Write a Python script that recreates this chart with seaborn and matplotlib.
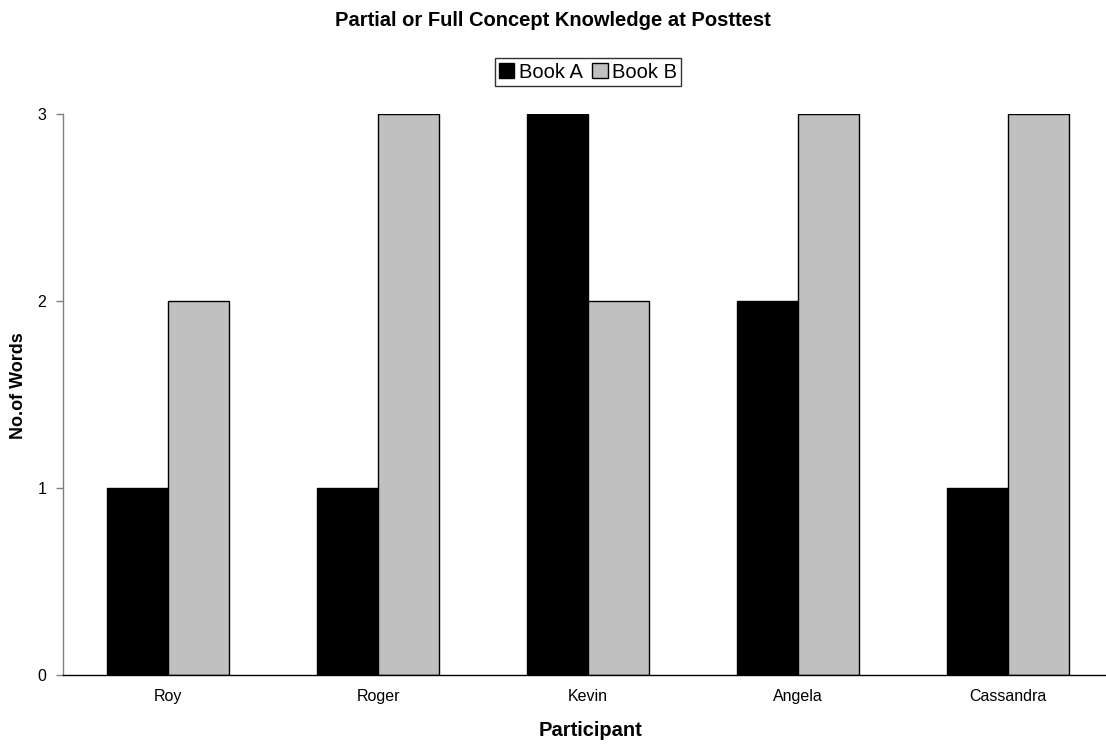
import matplotlib
matplotlib.use("Agg")
import matplotlib.pyplot as plt
import seaborn as sns
import pandas as pd

participants = ["Roy", "Roger", "Kevin", "Angela", "Cassandra"]
book_a = [1, 1, 3, 2, 1]
book_b = [2, 3, 2, 3, 3]
series_names = ["Book A", "Book B"]
y_ticks = [0, 1, 2, 3]

df = pd.DataFrame({
    "Participant": participants * 2,
    "Value": book_a + book_b,
    "Series": [series_names[0]] * len(participants) + [series_names[1]] * len(participants),
})

sns.set_style("white")
plt.rcParams["font.family"] = ["Liberation Sans", "DejaVu Sans"]

fig = plt.figure(figsize=(11.06, 7.45), dpi=100)
W, H = 1106, 745
ax = fig.add_axes([63 / W, (H - 675) / H, (1113 - 63) / W, (675 - 114) / H])

sns.barplot(data=df, x="Participant", y="Value", hue="Series",
            palette=["#000000", "#C0C0C0"], width=0.58, dodge=True,
            edgecolor="black", linewidth=1, ax=ax, legend=True)

ax.set_xlim(-0.5, 4.5)
ax.set_ylim(0, 3)
ax.set_yticks(y_ticks)
ax.set_yticklabels([str(t) for t in y_ticks], fontsize=11.5, color="black")
ax.set_xticks(range(len(participants)))
ax.set_xticklabels(participants, fontsize=11.5, color="black")
ax.tick_params(axis="x", length=0, pad=10)
ax.set_xticks([i + 0.5 for i in range(-1, len(participants))], minor=True)
ax.tick_params(axis="x", which="minor", length=5, direction="out", color="black", width=1)
ax.tick_params(axis="y", length=5, direction="out", color="#808080", width=1, pad=7, left=True)

for s in ["top", "right"]:
    ax.spines[s].set_visible(False)
ax.spines["left"].set_color("#808080")
ax.spines["left"].set_linewidth(1)
ax.spines["bottom"].set_color("black")
ax.spines["bottom"].set_linewidth(1)
ax.grid(False)

ax.set_xlabel("")
ax.set_ylabel("")
fig.text(590 / W, 1 - 731 / H, "Participant", ha="center", va="center",
         fontsize=14.5, fontweight="bold", color="black")
fig.text(19 / W, 1 - 386 / H, "No.of Words", ha="center", va="center",
         rotation=90, fontsize=13, fontweight="bold", color="black")

fig.text(553 / W, 1 - 20 / H, "Partial or Full Concept Knowledge at Posttest",
         ha="center", va="center", fontsize=14.5, fontweight="bold", color="black")

handles, labels = ax.get_legend_handles_labels()
ax.legend(handles, labels, loc="center", bbox_to_anchor=(588 / W, 1 - 72 / H),
          bbox_transform=fig.transFigure, ncol=2, frameon=True, fancybox=False,
          edgecolor="black", fontsize=14.5, handlelength=0.75, handleheight=0.75,
          handletextpad=0.2, columnspacing=0.5, borderpad=0.2, borderaxespad=0,
          title=None, labelcolor="black")
leg = ax.get_legend()
leg.get_frame().set_linewidth(1)

fig.savefig("out.png", dpi=100)
